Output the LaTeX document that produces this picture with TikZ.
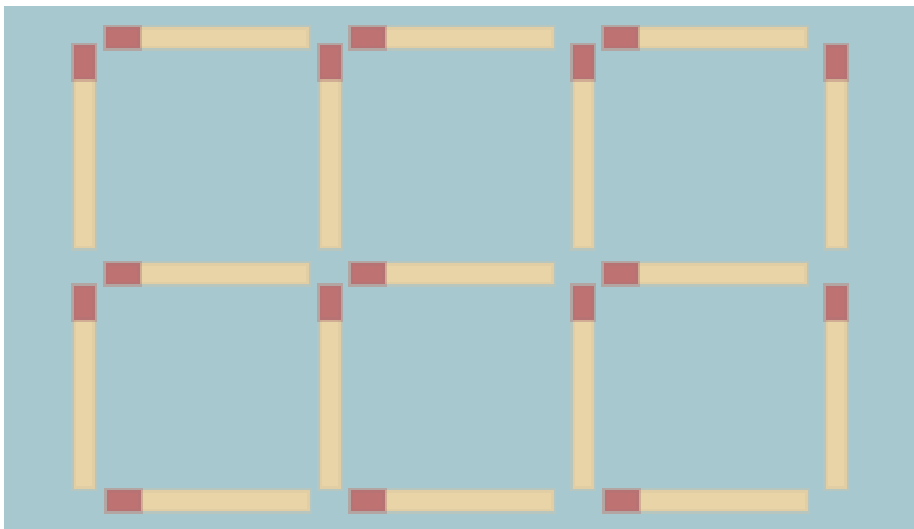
\documentclass[tikz,border=0pt]{standalone}
\usepackage{xcolor}
\usetikzlibrary{positioning}
\definecolor{tablebg}{RGB}{168,200,208}
\definecolor{woodbeige}{RGB}{233,212,168}
\definecolor{headred}{RGB}{190,114,114}
\tikzset{
    % Match body
    stick/.style={
        draw=woodbeige!80!gray, draw opacity=0.35, line width=5pt,
        fill=woodbeige,
        inner sep=0pt, outer sep=0pt,
    },
    % Match head
    stickhead/.style={
        draw=headred!75!gray, draw opacity=0.4, line width=5pt,
        fill=headred,
        inner sep=0pt, outer sep=0pt,
    },
    % Lying match, head on the left
    hstick/.style={
        stick, minimum width=203pt, minimum height=21pt,
        append after command={
            node[stickhead, minimum width=34pt, minimum height=21pt, anchor=west]
            (\tikzlastnode-head) at (\tikzlastnode.west) {}},
    },
    % Standing match, head on top
    vstick/.style={
        stick, minimum width=21pt, minimum height=203pt,
        append after command={
            node[stickhead, minimum width=21pt, minimum height=34pt, anchor=north]
            (\tikzlastnode-head) at (\tikzlastnode.north) {}},
    },
}

\begin{document}
\begin{tikzpicture}[x=1pt, y=-1pt]

% --- Table ---
\useasboundingbox (0,0) rectangle (914,529);
\fill[white] (0,0) rectangle (914,529);
\fill[tablebg] (4,6) rectangle (914,529);

% --- Top row ---
\node[hstick] (top1) at (207,38) {};
\node[hstick] (top2) at (452,38) {};
\node[hstick] (top3) at (705,38) {};

% --- Upper uprights ---
\node[vstick] (up1) at (84,147) {};
\node[vstick] (up2) at (330,147) {};
\node[vstick] (up3) at (583,147) {};
\node[vstick] (up4) at (836,147) {};

% --- Middle row ---
\node[hstick] (mid1) at (207,274) {};
\node[hstick] (mid2) at (452,274) {};
\node[hstick] (mid3) at (705,274) {};

% --- Lower uprights ---
\node[vstick] (low1) at (84,387.5) {};
\node[vstick] (low2) at (330,387.5) {};
\node[vstick] (low3) at (583,387.5) {};
\node[vstick] (low4) at (836,387.5) {};

% --- Bottom row ---
\node[hstick] (bot1) at (208,501) {};
\node[hstick] (bot2) at (452,501) {};
\node[hstick] (bot3) at (706,501) {};

\end{tikzpicture}
\end{document}
